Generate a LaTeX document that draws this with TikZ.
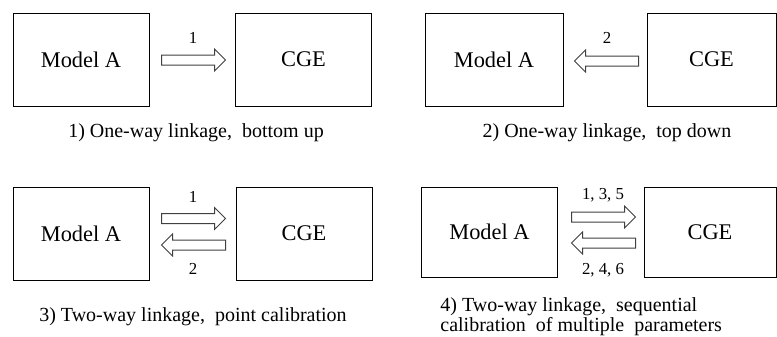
\documentclass[tikz,border=0pt]{standalone}
\usepackage{fontspec}
\setmainfont{Liberation Serif}
\usetikzlibrary{calc}
\tikzset{
  model/.style={draw, line width=0.5pt, minimum width=68pt, minimum height=46.5pt, inner sep=0pt, font=\fontsize{11.2}{13}\selectfont},
  steplabel/.style={font=\fontsize{8.4}{10}\selectfont, inner sep=0pt},
  caption/.style={font=\fontsize{10}{10.5}\selectfont, inner sep=0pt},
  arrowline/.style={draw=black!75, line width=0.5pt, fill=white},
  fatarrow/.pic={
    \draw[arrowline] (-32,-5) -- (21,-5) -- (21,-11) -- (32,0) -- (21,11) -- (21,5) -- (-32,5) -- cycle;
  }
}
\begin{document}
\begin{tikzpicture}[x=0.5pt, y=-0.5pt]
        \useasboundingbox (0,0) rectangle (777,337);
        %% 1) bottom up
        \node[model] (ma1) at (81,59.5) {Model A};
        \node[model] (cge1) at (303.5,59.5) {CGE};
        \pic at (193.5,60) {fatarrow};
        \node[steplabel] (l1) at (193,38) {1};
        \node[caption] (c1) at (196,133) {1) One-way linkage,~ bottom up};
        %% 2) top down
        \node[model, minimum width=69pt] (ma2) at (494,59.5) {Model A};
        \node[model, minimum width=64.5pt] (cge2) at (711.5,59.5) {CGE};
        \pic[xscale=-1] at (606.5,61) {fatarrow};
        \node[steplabel] (l2) at (607,38) {2};
        \node[caption] (c2) at (607,133) {2) One-way linkage,~ top down};
        %% 3) point calibration
        \node[model] (ma3) at (81,233.5) {Model A};
        \node[model] (cge3) at (304,233.5) {CGE};
        \pic at (193.5,218.5) {fatarrow};
        \pic[xscale=-1] at (193.5,245) {fatarrow};
        \node[steplabel] (l3a) at (193,197) {1};
        \node[steplabel] (l3b) at (193,269) {2};
        \node[caption] (c3) at (193,317) {3) Two-way linkage,~ point calibration};
        %% 4) sequential calibration
        \node[model, minimum height=45pt] (ma4) at (489.5,232) {Model A};
        \node[model, minimum width=66pt, minimum height=45pt] (cge4) at (710,232) {CGE};
        \pic at (603.5,217) {fatarrow};
        \pic[xscale=-1] at (603.5,243) {fatarrow};
        \node[steplabel] (l4a) at (603,195) {1, 3, 5};
        \node[steplabel] (l4b) at (603,270) {2, 4, 6};
        \node[caption, anchor=south west, align=left, font=\fontsize{10}{10}\selectfont] (c4) at (440,336) {4) Two-way linkage,~ sequential\\calibration~ of multiple~ parameters};
\end{tikzpicture}
\end{document}
